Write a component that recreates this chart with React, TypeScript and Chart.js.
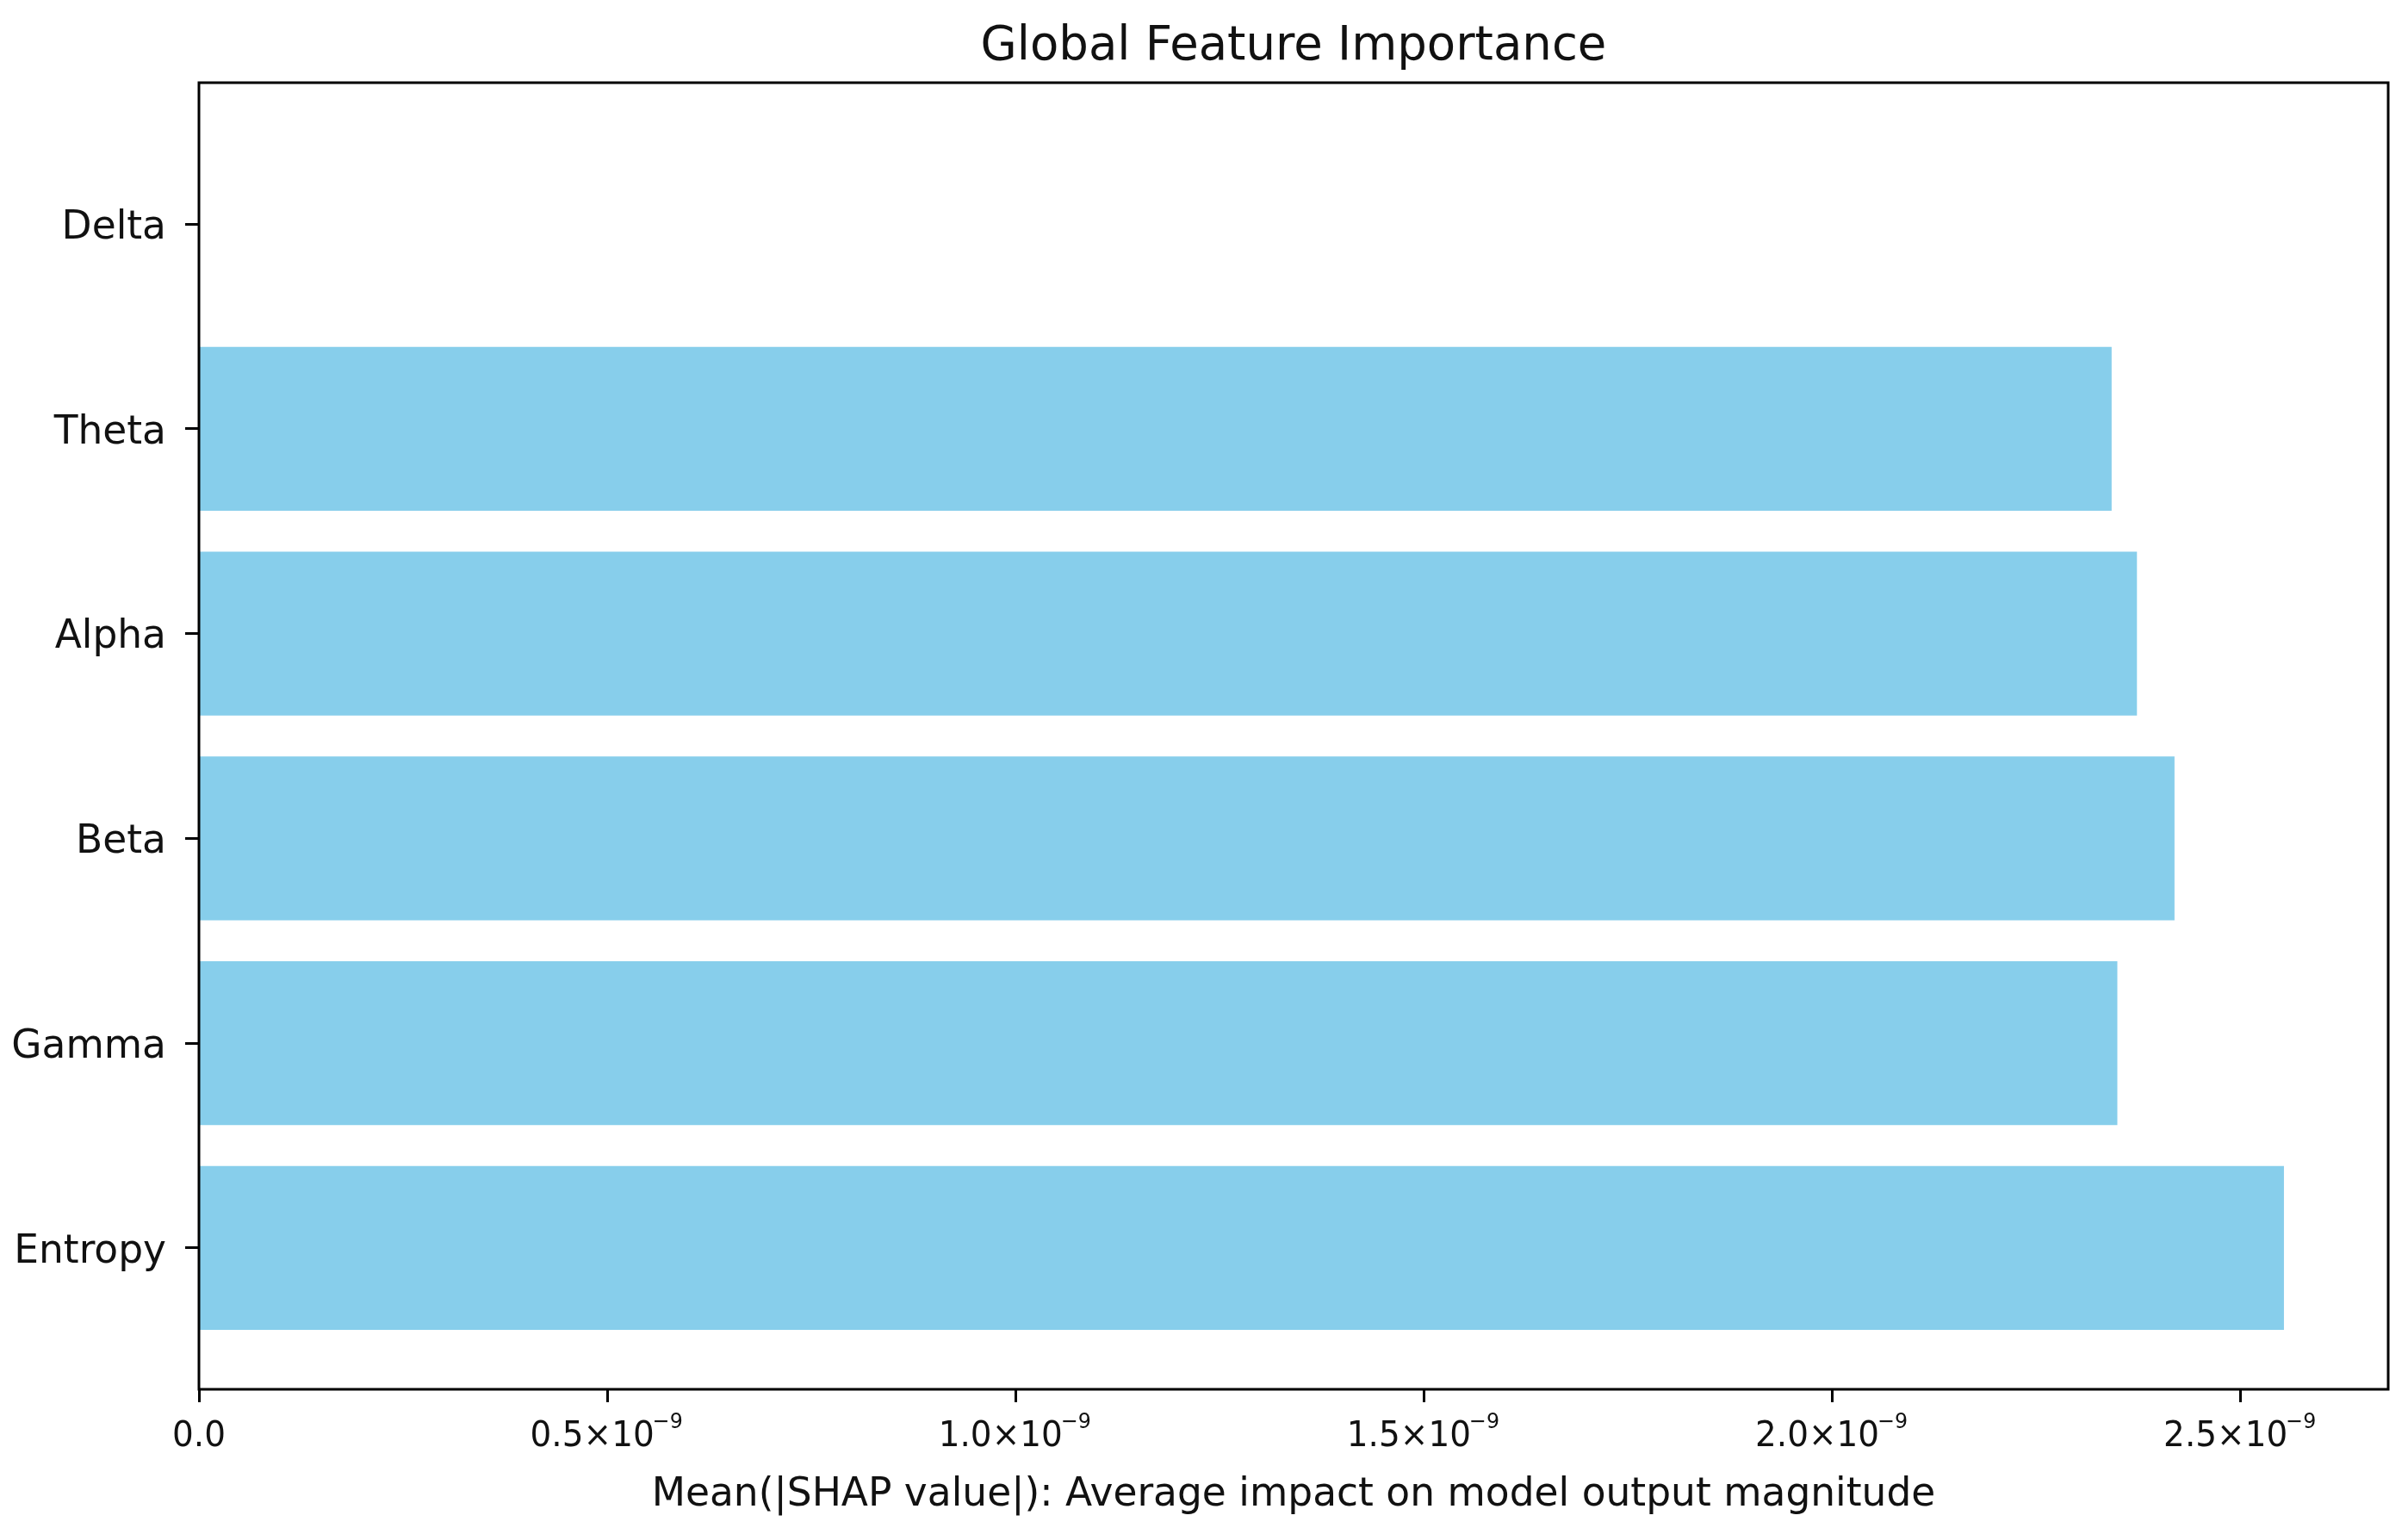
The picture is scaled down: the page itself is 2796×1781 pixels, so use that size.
import React, { useEffect, useRef } from 'react';
import { Chart, registerables } from 'chart.js';

Chart.register(...registerables);

const features = ['Entropy', 'Gamma', 'Beta', 'Alpha', 'Theta', 'Delta'];
const importance = [2.553e-9, 2.349e-9, 2.419e-9, 2.373e-9, 2.342e-9, 0];
const xTickValues = [0, 0.5e-9, 1.0e-9, 1.5e-9, 2.0e-9, 2.5e-9];
const xTickMantissa = ['0.0', '0.5×10', '1.0×10', '1.5×10', '2.0×10', '2.5×10'];
const xTickExponent = ['', '−9', '−9', '−9', '−9', '−9'];
const titleText = 'Global Feature Importance';
const xAxisLabel = 'Mean(|SHAP value|): Average impact on model output magnitude';

const W = 2796;
const H = 1781;
const FONT = "'DejaVu Sans', sans-serif";
const TEXT = '#111';

export default function App() {
  const ref = useRef<HTMLCanvasElement | null>(null);

  useEffect(() => {
    document.body.style.margin = '0';
    const canvas = ref.current;
    if (!canvas) return;

    const n = features.length;
    const lo = -0.4;
    const hi = n - 1 + 0.4;
    const m = 0.05 * (hi - lo);
    const xMax = Math.max(...importance) * 1.05;

    const framePlugin = {
      id: 'frame',
      afterDatasetsDraw(chart: any) {
        const { ctx, chartArea } = chart;
        ctx.save();
        ctx.strokeStyle = '#000';
        ctx.lineWidth = 3;
        ctx.strokeRect(chartArea.left, chartArea.top, chartArea.right - chartArea.left, chartArea.bottom - chartArea.top);
        ctx.restore();
      },
    };

    const textPlugin = {
      id: 'texts',
      afterDraw(chart: any) {
        const { ctx, chartArea } = chart;
        const xs = chart.scales.x;
        ctx.save();
        ctx.fillStyle = TEXT;
        // title centred over the plot area
        ctx.font = `54.5px ${FONT}`;
        ctx.textAlign = 'center';
        ctx.textBaseline = 'alphabetic';
        ctx.fillText(titleText, (chartArea.left + chartArea.right) / 2, chartArea.top - 27);

        // x tick labels with superscript exponent
        const sx = 0.95;
        const baseFont = `41px ${FONT}`;
        const expFont = `25px ${FONT}`;
        const baseY = chartArea.bottom + 66;
        xTickValues.forEach((v, i) => {
          const px = xs.getPixelForValue(v);
          ctx.font = baseFont;
          const wb = ctx.measureText(xTickMantissa[i]).width;
          ctx.font = expFont;
          const we = xTickExponent[i] ? ctx.measureText(xTickExponent[i]).width : 0;
          const total = (wb + we) * sx;
          ctx.save();
          ctx.translate(px - total / 2, 0);
          ctx.scale(sx, 1);
          ctx.textAlign = 'left';
          ctx.font = baseFont;
          ctx.fillText(xTickMantissa[i], 0, baseY);
          if (xTickExponent[i]) {
            ctx.font = expFont;
            ctx.fillText(xTickExponent[i], wb - 2, baseY - 21);
          }
          ctx.restore();
        });
        ctx.restore();
      },
    };

    const chart = new Chart(canvas, {
      type: 'bar',
      data: {
        datasets: [
          {
            data: features.map((_f, i) => ({ x: importance[i], y: i })),
            backgroundColor: '#87CEEB',
            borderWidth: 0,
            categoryPercentage: 1,
            barPercentage: 0.8,
          } as any,
        ],
      },
      plugins: [framePlugin, textPlugin],
      options: {
        indexAxis: 'y',
        animation: false,
        responsive: false,
        layout: { padding: { left: 0, right: 23, top: 96, bottom: 0 } },
        plugins: {
          legend: { display: false },
          tooltip: { enabled: false },
          title: { display: false },
        },
        scales: {
          x: {
            type: 'linear',
            min: 0,
            max: xMax,
            offset: false,
            afterBuildTicks: (scale: any) => {
              scale.ticks = xTickValues.map((v) => ({ value: v }));
            },
            afterFit: (scale: any) => {
              scale.height = 168;
            },
            ticks: { display: false, autoSkip: false },
            grid: {
              offset: false,
              drawOnChartArea: false,
              drawTicks: true,
              tickLength: 15,
              tickWidth: 3,
              tickColor: '#000',
            },
            border: { display: false },
            title: {
              display: true,
              text: xAxisLabel,
              color: TEXT,
              font: { family: FONT, size: 45.5 },
              padding: { top: 0, bottom: 18 },
            },
          },
          y: {
            type: 'linear',
            min: lo - m,
            max: hi + m,
            offset: false,
            afterBuildTicks: (scale: any) => {
              scale.ticks = features.map((_f, i) => ({ value: i }));
            },
            afterFit: (scale: any) => {
              scale.width = 231;
            },
            ticks: {
              autoSkip: false,
              color: TEXT,
              padding: 22,
              labelOffset: 5,
              font: { family: FONT, size: 45.5 },
              callback: (v: any) => features[Math.round(Number(v))],
            },
            grid: {
              offset: false,
              drawOnChartArea: false,
              drawTicks: true,
              tickLength: 16,
              tickWidth: 3,
              tickColor: '#000',
            },
            border: { display: false },
          },
        },
      } as any,
    });

    return () => chart.destroy();
  }, []);

  return (
    <div style={{ width: W, height: H }}>
      <canvas ref={ref} width={W} height={H} style={{ display: 'block', width: W, height: H }} />
    </div>
  );
}
